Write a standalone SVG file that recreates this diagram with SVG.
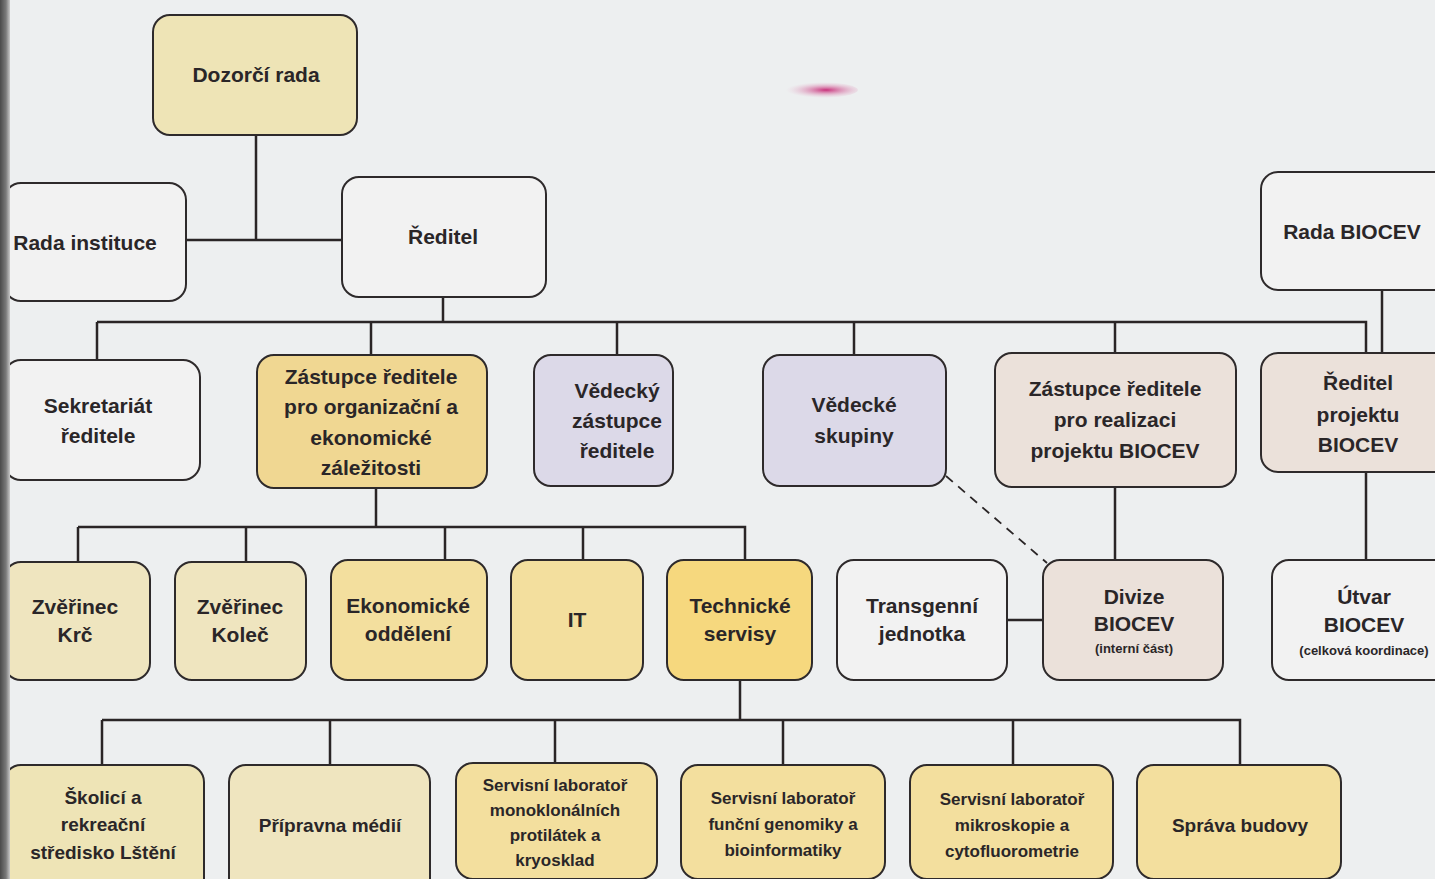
<svg xmlns="http://www.w3.org/2000/svg" width="1435" height="879" viewBox="0 0 1435 879">
<defs>
<linearGradient id="strip" x1="0" y1="0" x2="1" y2="0">
<stop offset="0" stop-color="#4a4a4a"/><stop offset="0.6" stop-color="#7a7a7a"/><stop offset="1" stop-color="#c8c8c8"/>
</linearGradient>
<radialGradient id="smudge" cx="0.6" cy="0.5" r="0.5">
<stop offset="0" stop-color="#c8307a"/><stop offset="1" stop-color="#e6b8cf" stop-opacity="0"/>
</radialGradient>
</defs>
<style>
.bg{fill:#edeff0}
.n{stroke:#2e2a2b;stroke-width:2}
.w{fill:#f2f2f2}
.y1{fill:#eee4b6}
.y2{fill:#f0d792}
.y3{fill:#f3df9e}
.y4{fill:#f6d87e}
.y5{fill:#efe5bf}
.lv{fill:#dcd9e8}
.pk{fill:#ebe1da}
.t{font-family:"Liberation Sans",Arial,sans-serif;font-weight:bold;font-size:21px;fill:#2a2628;text-anchor:middle}
.s{font-size:19px}
.xs{font-size:17px}
.sm{font-size:13px}
.c{stroke:#2a2526;stroke-width:2.5;fill:none}
.d{stroke:#2a2526;stroke-width:1.8;fill:none;stroke-dasharray:9 7}
</style>
<rect class="bg" x="0" y="0" width="1435" height="879"/>
<ellipse cx="818" cy="90" rx="40" ry="8" fill="url(#smudge)"/>

<g id="connectors">
<path class="c" d="M256 135 V240 M186 240 H342"/>
<path class="c" d="M443 297 V322 M97 322 H1366 V353"/>
<path class="c" d="M97 322 V360 M371 322 V355 M617 322 V355 M854 322 V355 M1115 322 V353"/>
<path class="c" d="M1382 290 V353"/>
<path class="c" d="M376 488 V527 M78 527 H745 V560 M78 527 V562 M246 527 V562 M445 527 V560 M583 527 V560"/>
<path class="c" d="M1115 487 V560 M1366 472 V560 M1007 620 H1043"/>
<path class="d" d="M946 476 L1047 563"/>
<path class="c" d="M740 680 V720 M102 720 H1240 V765 M102 720 V765 M330 720 V765 M555 720 V763 M783 720 V765 M1013 720 V765"/>
</g>

<g id="dozorci-rada"><rect class="n y1" x="153" y="15" width="204" height="120" rx="17"/><text class="t" x="256" y="82">Dozorčí rada</text></g>
<g id="rada-instituce"><rect class="n w" x="4" y="183" width="182" height="118" rx="17"/><text class="t" x="85" y="250">Rada instituce</text></g>
<g id="reditel"><rect class="n w" x="342" y="177" width="204" height="120" rx="17"/><text class="t" x="443" y="244">Ředitel</text></g>
<g id="rada-biocev"><rect class="n w" x="1261" y="172" width="190" height="118" rx="17"/><text class="t" x="1352" y="239">Rada BIOCEV</text></g>

<g id="sekretariat"><rect class="n w" x="4" y="360" width="196" height="120" rx="17"/><text class="t" x="98" y="413">Sekretariát</text><text class="t" x="98" y="443">ředitele</text></g>
<g id="zastupce-org"><rect class="n y2" x="257" y="355" width="230" height="133" rx="17"/><text class="t" x="371" y="384">Zástupce ředitele</text><text class="t" x="371" y="414">pro organizační a</text><text class="t" x="371" y="445">ekonomické</text><text class="t" x="371" y="475">záležitosti</text></g>
<g id="vedecky-zastupce"><rect class="n lv" x="534" y="355" width="139" height="131" rx="17"/><text class="t" x="617" y="398">Vědecký</text><text class="t" x="617" y="428">zástupce</text><text class="t" x="617" y="458">ředitele</text></g>
<g id="vedecke-skupiny"><rect class="n lv" x="763" y="355" width="183" height="131" rx="17"/><text class="t" x="854" y="412">Vědecké</text><text class="t" x="854" y="443">skupiny</text></g>
<g id="zastupce-realizace"><rect class="n pk" x="995" y="353" width="241" height="134" rx="17"/><text class="t" x="1115" y="396">Zástupce ředitele</text><text class="t" x="1115" y="427">pro realizaci</text><text class="t" x="1115" y="458">projektu BIOCEV</text></g>
<g id="reditel-projektu"><rect class="n pk" x="1261" y="353" width="190" height="119" rx="17"/><text class="t" x="1358" y="390">Ředitel</text><text class="t" x="1358" y="422">projektu</text><text class="t" x="1358" y="452">BIOCEV</text></g>

<g id="zverinec-krc"><rect class="n y5" x="4" y="562" width="146" height="118" rx="17"/><text class="t" x="75" y="614">Zvěřinec</text><text class="t" x="75" y="642">Krč</text></g>
<g id="zverinec-kolec"><rect class="n y5" x="175" y="562" width="131" height="118" rx="17"/><text class="t" x="240" y="614">Zvěřinec</text><text class="t" x="240" y="642">Koleč</text></g>
<g id="ekonomicke"><rect class="n y3" x="331" y="560" width="156" height="120" rx="17"/><text class="t" x="408" y="613">Ekonomické</text><text class="t" x="408" y="641">oddělení</text></g>
<g id="it"><rect class="n y3" x="511" y="560" width="132" height="120" rx="17"/><text class="t" x="577" y="627">IT</text></g>
<g id="technicke-servisy"><rect class="n y4" x="667" y="560" width="145" height="120" rx="17"/><text class="t" x="740" y="613">Technické</text><text class="t" x="740" y="641">servisy</text></g>
<g id="transgenni"><rect class="n w" x="837" y="560" width="170" height="120" rx="17"/><text class="t" x="922" y="613">Transgenní</text><text class="t" x="922" y="641">jednotka</text></g>
<g id="divize-biocev"><rect class="n pk" x="1043" y="560" width="180" height="120" rx="17"/><text class="t" x="1134" y="604">Divize</text><text class="t" x="1134" y="631">BIOCEV</text><text class="t sm" x="1134" y="653">(interní část)</text></g>
<g id="utvar-biocev"><rect class="n w" x="1272" y="560" width="180" height="120" rx="17"/><text class="t" x="1364" y="604">Útvar</text><text class="t" x="1364" y="632">BIOCEV</text><text class="t sm" x="1364" y="655">(celková koordinace)</text></g>

<g id="skolici"><rect class="n y1" x="4" y="765" width="200" height="130" rx="17"/><text class="t s" x="103" y="804">Školicí a</text><text class="t s" x="103" y="831">rekreační</text><text class="t s" x="103" y="859">středisko Lštění</text></g>
<g id="pripravna"><rect class="n y5" x="229" y="765" width="201" height="130" rx="17"/><text class="t s" x="330" y="832">Přípravna médií</text></g>
<g id="lab-mono"><rect class="n y3" x="456" y="763" width="201" height="116" rx="17"/><text class="t xs" x="555" y="791">Servisní laboratoř</text><text class="t xs" x="555" y="816">monoklonálních</text><text class="t xs" x="555" y="841">protilátek a</text><text class="t xs" x="555" y="866">kryosklad</text></g>
<g id="lab-genomiky"><rect class="n y3" x="681" y="765" width="204" height="114" rx="17"/><text class="t xs" x="783" y="804">Servisní laboratoř</text><text class="t xs" x="783" y="830">funční genomiky a</text><text class="t xs" x="783" y="856">bioinformatiky</text></g>
<g id="lab-mikroskopie"><rect class="n y3" x="910" y="765" width="203" height="114" rx="17"/><text class="t xs" x="1012" y="805">Servisní laboratoř</text><text class="t xs" x="1012" y="831">mikroskopie a</text><text class="t xs" x="1012" y="857">cytofluorometrie</text></g>
<g id="sprava-budovy"><rect class="n y3" x="1137" y="765" width="204" height="114" rx="17"/><text class="t s" x="1240" y="832">Správa budovy</text></g>

<rect x="0" y="0" width="10" height="879" fill="url(#strip)"/>
</svg>
